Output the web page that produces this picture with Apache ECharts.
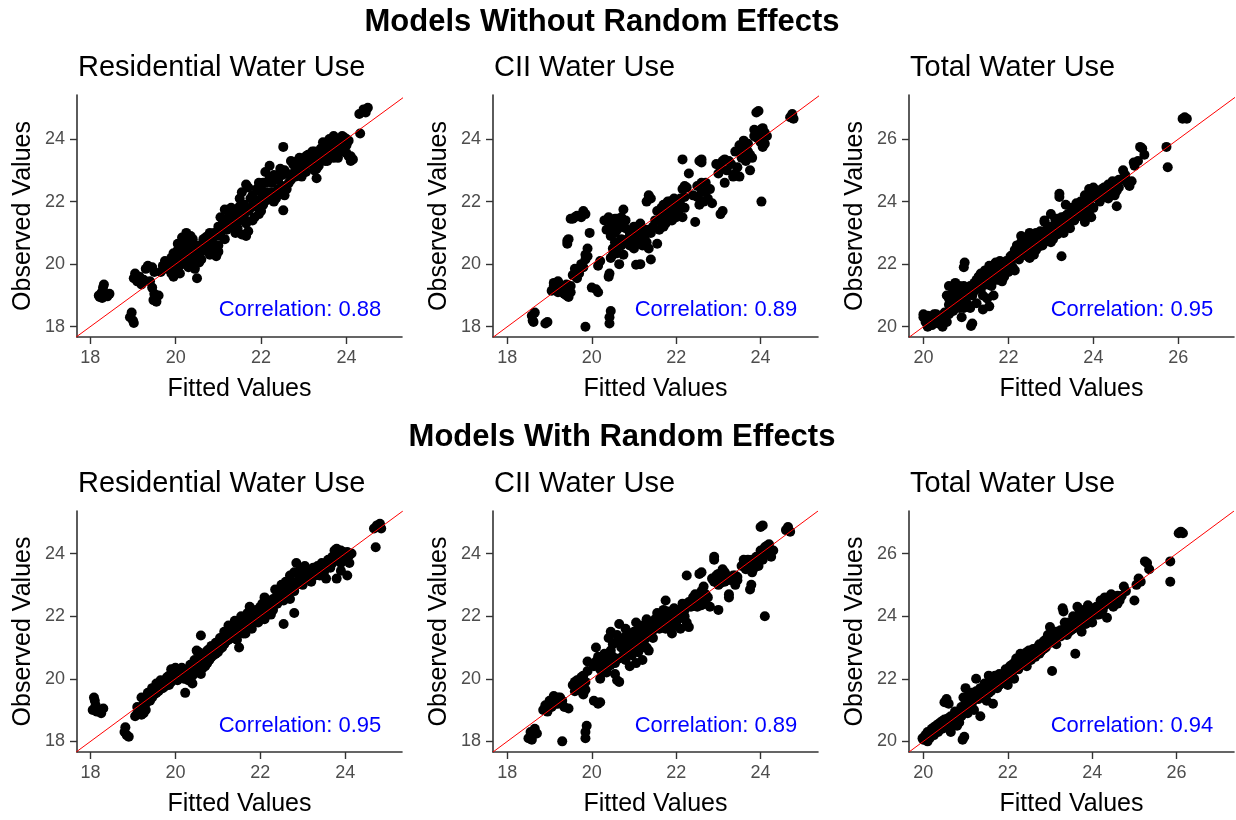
<!DOCTYPE html>
<html>
<head>
<meta charset="utf-8">
<script src="https://cdn.jsdelivr.net/npm/echarts@6/dist/echarts.min.js"></script>
<style>
  html, body { margin: 0; padding: 0; background: #fff; }
  #chart { width: 1236px; height: 820px; }
</style>
</head>
<body>
<div id="chart"></div>
<script>
// Row headings, panel headings and correlation annotations
const rowTitles = ['Models Without Random Effects', 'Models With Random Effects'];
const panelTitles = ['Residential Water Use', 'CII Water Use', 'Total Water Use'];
const correlations = ['0.88', '0.89', '0.95', '0.95', '0.89', '0.94'];

// Axis extents per panel (fitted on x, observed on y)
const xRanges = [[17.69, 25.30], [17.66, 25.36], [19.66, 27.31], [17.68, 25.34], [17.66, 25.36], [19.66, 27.36]];
const yRanges = [[17.67, 25.41], [17.67, 25.41], [19.67, 27.41], [17.66, 25.36], [17.66, 25.36], [19.66, 27.36]];
const ticksLow = [18, 20, 22, 24];
const ticksHigh = [20, 22, 24, 26];
const panelTicks = [ticksLow, ticksLow, ticksHigh, ticksLow, ticksLow, ticksHigh];

// [fitted, observed] pairs
const resNoRE = [
[18.2,19.0],[18.22,18.95],[18.27,19.1],[18.3,19.25],[18.32,19.35],[18.35,19.0],[18.4,18.97],[18.45,19.05],[18.28,18.92],
[18.93,18.3],[18.97,18.45],[19.0,18.2],[19.02,18.12],
[19.02,19.55],[19.05,19.7],[19.1,19.45],[19.15,19.6],[19.25,19.5],[19.3,19.85],[19.35,19.95],[19.45,19.9],[19.5,19.75],[19.2,19.35],[19.4,19.45],
[19.45,19.25],[19.5,19.05],[19.52,18.9],[19.55,18.8],[19.6,19.0],[19.48,18.85],
[19.65,19.75],[19.7,19.95],[19.75,20.1],[19.8,19.85],[19.85,20.0],[19.9,19.7],[19.95,20.35],[19.9,20.2],
[20.0,20.1],[20.05,19.85],[20.05,20.45],[20.1,20.25],[20.1,19.7],[20.15,20.6],[20.15,20.0],[20.2,20.8],[20.2,20.3],[20.25,21.0],[20.25,20.5],[20.3,19.9],[20.3,20.7],[20.35,20.35],[20.35,20.9],[20.4,20.1],[20.4,20.6],[20.45,19.85],[20.5,19.55],[20.5,20.3],[20.55,20.05],
[20.6,20.4],[20.65,20.8],[20.7,20.55],[20.75,20.9],[20.8,20.3],[20.85,20.7],[20.9,21.0],[20.95,20.25],[21.0,20.6],[21.05,20.9],[21.0,21.2],
[21.05,21.5],[21.1,21.3],[21.15,21.75],[21.2,21.1],[21.25,21.6],[21.3,21.8],[21.35,21.35],[21.4,21.0],[21.45,21.6],[21.5,21.85],
[21.55,20.95],[21.65,20.9],[21.7,21.05],
[21.5,22.1],[21.55,22.3],[21.6,21.5],[21.65,22.55],[21.7,22.45],[21.75,21.8],[21.8,22.2],[21.85,21.5],[21.9,22.0],[21.95,22.35],[22.0,21.7],[22.05,22.6],[22.0,22.1],
[22.1,22.95],[22.15,22.3],[22.2,23.15],[22.25,22.6],[22.3,22.0],[22.35,22.8],[22.4,22.4],[22.45,23.05],[22.5,22.5],[22.55,22.2],[22.52,21.72],[22.52,23.75],[22.6,22.9],[22.65,22.6],
[22.7,23.3],[22.75,22.9],[22.8,23.1],[22.9,23.4],[22.95,23.0],[23.0,23.35],[23.05,22.95],[23.1,23.5],[23.2,23.2],[23.25,23.6],[23.3,22.75],[23.3,23.05],[23.35,23.4],
[23.4,23.7],[23.45,23.9],[23.5,23.5],[23.55,23.85],[23.6,24.0],[23.65,23.6],[23.7,24.1],[23.75,23.75],[23.8,23.4],[23.85,23.95],[23.9,24.1],[23.95,23.6],[24.0,23.8],[24.05,23.45],[24.1,23.3],[24.15,23.35],[24.0,24.0],
[24.32,24.18],[24.3,24.8],[24.4,24.95],[24.5,25.0],[24.45,24.85],
[19.95,19.6],[20.0,19.9],[20.05,20.65],[20.1,20.45],[20.15,20.85],[20.2,20.55],[20.25,20.15],[20.3,20.45],[20.35,20.6],[20.4,20.8],[20.45,20.5],[20.5,20.1],[20.55,20.6],[20.6,20.15],[20.65,20.5],[20.7,20.85],[20.75,20.6],[20.8,21.0],[20.85,20.45],[20.9,20.6],[20.95,20.9],[21.0,20.4],
[21.1,21.1],[21.15,20.8],[21.2,21.45],[21.25,21.2],[21.3,21.5],[21.35,21.7],[21.45,21.15],[21.5,21.4],[21.55,21.65],[21.6,21.9],[21.65,21.3],[21.7,21.7],[21.75,22.1],[21.8,21.4],[21.85,21.85],[21.9,22.4],[21.95,21.6],[22.0,22.4],[22.05,21.9],
[22.1,22.6],[22.15,22.05],[22.2,22.75],[22.25,22.3],[22.3,22.85],[22.35,22.1],[22.4,22.7],[22.45,22.3],[22.5,22.85],[22.55,23.0],[22.6,22.4],[22.7,22.7],[22.75,23.2],[22.8,22.8],[22.85,23.3],[22.9,23.0],
[23.0,23.1],[23.05,23.45],[23.1,23.2],[23.15,23.35],[23.2,23.6],[23.25,23.0],[23.35,23.15],[23.4,23.35],[23.45,23.55],[23.5,23.75],[23.55,23.3],[23.6,23.75],[23.65,23.9],[23.7,23.4],[23.75,24.0],[23.8,23.8],[23.85,23.6],[23.9,23.85],[23.95,24.05],[24.0,23.55],[24.05,23.95],[24.1,23.45],
[23.5,23.3],[22.95,22.8],[22.1,22.2],[21.95,22.6]
];

const ciiNoRE = [
[18.58,18.35],[18.6,18.2],[18.65,18.45],[18.62,18.15],[18.9,18.1],[18.95,18.15],[19.85,18.0],[20.42,18.1],[20.42,18.3],[20.45,18.5],
[19.05,19.15],[19.1,19.4],[19.15,19.25],[19.2,19.1],[19.25,19.35],[19.3,19.3],[19.35,19.05],[19.4,19.0],[19.45,19.15],[19.5,19.3],[19.4,19.2],
[20.0,19.25],[20.1,19.2],[20.15,19.1],
[19.42,20.65],[19.45,20.8],
[19.55,21.45],[19.6,21.5],[19.75,21.5],[19.85,21.6],[19.8,21.7],
[19.95,21.0],[19.9,20.5],[19.85,20.3],
[19.55,19.65],[19.6,19.85],[19.65,19.55],[19.7,19.7],[19.75,20.0],[19.8,19.9],[19.85,20.15],[19.9,20.25],
[20.15,19.95],[20.2,20.1],[20.4,19.6],[20.42,19.7],
[20.3,21.4],[20.35,21.1],[20.4,21.5],[20.45,20.9],[20.5,21.3],[20.55,21.0],[20.6,21.45],[20.7,21.2],[20.75,21.75],[20.8,21.4],
[20.45,20.2],[20.5,20.5],[20.55,20.7],[20.6,20.35],[20.65,20.0],[20.7,20.6],[20.75,20.3],[20.85,20.8],[20.9,21.0],
[21.05,19.98],[21.15,20.0],
[20.9,20.6],[21.0,21.2],[21.05,20.75],[21.1,21.0],[21.15,21.3],[21.2,20.6],[21.25,20.85],[21.3,21.1],[21.35,20.5],[21.4,20.15],[21.45,21.2],
[21.3,22.0],[21.35,22.2],[21.4,22.1],
[21.55,20.65],[21.5,21.4],[21.55,21.7],[21.6,21.1],[21.65,21.55],[21.7,21.9],[21.75,21.3],[21.8,21.7],[21.85,22.0],[21.9,21.4],[21.95,21.85],[22.0,22.05],[22.05,21.6],[22.1,21.9],[22.15,21.5],[22.2,21.8],
[22.15,23.35],[22.15,22.4],[22.3,22.9],[22.55,23.3],[22.6,23.35],[22.45,21.35],
[22.4,22.2],[22.5,22.5],[22.55,21.9],[22.6,22.3],[22.7,22.6],[22.75,22.1],[22.8,22.4],[22.85,21.95],
[23.05,21.6],[23.1,21.7],
[22.95,23.2],[23.0,22.9],[23.1,23.3],[23.15,22.6],[23.2,23.0],[23.3,23.2],[23.35,22.8],[23.45,23.1],[23.5,22.8],
[23.4,23.6],[23.5,23.8],[23.55,23.4],[23.6,23.95],[23.65,23.3],[23.7,23.6],[23.75,23.0],[23.8,23.4],
[24.02,22.0],
[23.9,24.85],[23.95,24.9],
[23.85,24.1],[23.9,24.25],[23.95,24.0],[24.0,24.3],[24.05,24.15],[24.1,23.85],[24.15,24.1],[24.05,23.75],
[24.7,24.7],[24.75,24.8],[24.78,24.65],
[19.42,20.75],[19.5,21.45],[19.65,21.55],[19.1,19.3],[19.2,19.45],[19.3,19.1],[19.4,19.35],[19.5,19.1],[19.45,18.95],
[20.45,21.2],[20.55,21.45],[20.6,21.1],[20.65,21.35],[20.7,21.5],[20.5,20.3],[20.6,20.55],[20.7,20.8],[20.8,21.15],[20.95,20.8],[21.0,20.5],[21.1,20.7],[21.2,21.1],[21.3,20.7],[21.4,21.0],
[21.6,21.4],[21.65,21.8],[21.7,21.2],[21.75,21.6],[21.8,22.0],[21.85,21.5],[21.9,21.75],[21.95,22.1],[22.0,21.5],[22.05,21.85],[22.1,22.1],[22.2,22.15],[22.25,22.45],
[22.5,22.15],[22.6,22.6],[22.65,22.0],[22.7,22.35],[23.05,23.1],[23.15,23.35],[23.25,23.3],[23.4,22.9],[23.55,23.7],[23.6,23.55],[23.7,23.85],[23.75,23.5],
[23.85,24.3],[23.9,24.05],[24.0,24.1],[24.05,24.35],[24.1,24.2],[24.0,23.9],[21.35,22.1],[22.2,22.5],[22.6,23.25]
];

const totNoRE = [
[20.0,20.3],[20.05,20.15],[20.1,20.0],[20.1,20.35],[20.15,20.2],[20.2,20.05],[20.25,20.4],[20.3,20.25],[20.35,20.1],[20.4,20.35],[20.45,20.0],[20.5,20.3],
[20.6,20.7],[20.65,21.0],[20.7,20.5],[20.75,20.85],[20.8,21.25],[20.85,20.6],[20.9,20.3],[20.9,21.1],[20.95,21.3],[21.0,20.8],[21.05,21.15],[21.1,20.6],
[20.95,21.9],[20.97,22.05],
[21.12,20.02],[21.15,20.1],
[21.15,21.0],[21.2,21.4],[21.25,20.75],[21.3,21.6],[21.35,21.2],[21.4,20.55],[21.45,21.5],[21.5,20.9],[21.55,20.65],[21.6,21.3],[21.65,21.0],
[21.45,21.8],[21.55,21.95],[21.6,21.6],[21.7,22.05],[21.75,21.5],[21.8,21.85],[21.9,21.6],[21.95,22.1],[22.0,21.75],
[22.05,22.0],[22.1,22.3],[22.15,21.8],[22.2,22.5],[22.25,22.15],[22.3,22.7],[22.35,22.35],[22.4,22.85],[22.45,22.5],[22.5,22.2],[22.55,22.7],[22.6,22.95],[22.65,22.45],
[22.7,22.8],[22.75,23.05],[22.8,22.6],[22.85,23.35],[22.9,22.9],[22.95,23.2],[23.0,22.7],[23.05,23.05],[23.1,23.3],[23.15,22.95],
[23.2,24.25],[23.2,24.15],
[23.25,22.25],
[23.3,23.3],[23.35,23.9],[23.4,23.6],[23.45,23.15],[23.5,23.8],[23.55,23.4],[23.6,23.95],[23.7,23.6],[23.75,23.9],[23.8,23.45],
[23.85,24.2],[23.9,24.05],[23.95,24.3],[24.0,23.8],[24.05,24.2],[24.1,24.35],[24.15,24.0],[24.2,24.4],[24.25,24.15],
[24.35,24.55],[24.4,24.3],[24.45,24.65],[24.5,24.2],[24.55,23.85],[24.6,24.45],[24.65,24.7],
[24.7,25.0],[24.75,24.85],[24.85,24.5],[24.9,24.65],
[24.97,25.15],[25.05,25.3],[25.1,25.75],[25.15,25.7],[25.2,25.5],
[25.72,25.75],[25.75,25.1],[26.1,26.65],[26.15,26.7],[26.2,26.65],
[20.0,20.4],[20.05,20.3],[20.2,20.3],[20.3,20.4],[20.4,20.2],[20.5,20.45],[20.55,20.15],[20.6,20.4],[20.7,20.9],[20.75,20.6],[20.8,21.05],[20.85,21.3],[20.9,20.85],
[21.0,21.05],[21.05,20.7],[21.1,21.3],[21.2,21.15],[21.25,21.5],[21.3,21.35],[21.35,21.7],[21.4,21.0],[21.5,21.35],[21.55,21.7],[21.65,21.8],[21.7,21.5],[21.8,21.6],[21.85,22.0],[21.9,21.8],
[22.0,22.0],[22.05,22.25],[22.1,21.9],[22.15,22.45],[22.2,22.2],[22.25,22.6],[22.3,22.4],[22.35,22.8],[22.4,22.6],[22.45,22.25],[22.5,22.8],[22.55,22.45],[22.6,22.7],[22.65,23.0],[22.7,22.55],
[22.75,22.8],[22.8,23.0],[22.85,22.7],[22.9,23.1],[22.95,22.85],[23.0,23.15],[23.05,22.8],[23.1,23.1],[23.15,23.45],[23.2,23.2],[23.25,23.5],[23.3,23.0],[23.35,23.3],[23.4,23.35],[23.45,23.6],
[23.5,23.4],[23.55,23.7],[23.6,23.5],[23.65,23.8],[23.7,24.0],[23.8,23.7],[23.85,24.0],[23.9,24.25],[23.95,24.1],[24.0,24.15],[24.05,24.35],[24.1,24.1],[24.2,24.2],[24.25,24.45],[24.3,24.3],
[24.35,24.1],[24.4,24.5],[24.5,24.6],[24.55,24.35],[24.6,24.7],[24.7,24.75],[24.8,24.6],[24.95,25.25],
[20.55,21.0],[20.6,21.3],[20.65,20.85],[20.7,21.2],[20.75,21.4],[20.8,20.75],[20.85,21.0],[20.95,20.6],[21.0,21.1],[20.6,20.9],
[21.6,21.75],[21.7,22.0],[21.8,22.1],[21.75,21.65],[21.85,21.45],[21.9,21.9],
[22.2,22.6],[22.3,22.9],[22.4,22.6],[22.5,23.0],[22.6,22.3],
[22.85,23.4],[23.0,23.6],[23.1,23.45],[23.25,23.1],[23.4,23.2],[23.35,23.55],
[23.8,24.2],[23.9,24.4],[24.0,24.45],[24.1,24.3],[24.2,24.25],[23.9,23.7],[23.8,23.35],[23.95,23.5]
];

const resRE = [
[18.05,19.0],[18.1,19.3],[18.12,19.15],[18.15,18.95],[18.2,19.0],[18.25,18.9],[18.3,19.05],[18.08,19.4],
[18.8,18.3],[18.82,18.45],[18.85,18.2],[18.9,18.15],
[19.05,18.8],[19.1,18.9],[19.15,19.05],[19.2,18.85],[19.25,19.2],[19.3,19.0],[19.1,19.1],[19.2,19.4],
[19.35,19.55],[19.4,19.3],[19.45,19.7],[19.5,19.5],[19.55,19.85],[19.6,19.6],[19.65,19.95],[19.7,19.7],[19.75,19.9],
[19.8,20.05],[19.85,19.8],[19.9,20.3],[19.95,20.1],[20.0,20.35],[20.05,19.95],[20.1,20.2],[20.15,20.35],[20.2,20.0],
[20.23,19.55],[20.3,19.95],[20.4,19.85],
[20.45,20.3],[20.5,20.9],[20.55,20.5],[20.6,21.38],[20.6,20.15],[20.65,20.7],[20.7,20.4],[20.75,20.9],[20.8,20.6],[20.85,21.05],[20.9,20.75],[20.95,21.15],[21.0,20.85],
[21.05,21.3],[21.1,21.0],[21.15,21.5],[21.2,21.2],[21.25,21.7],[21.3,21.35],[21.35,21.55],[21.4,21.85],[21.45,21.25],[21.5,21.0],
[21.5,21.7],[21.55,22.0],[21.6,21.45],[21.65,21.9],[21.7,22.1],[21.75,22.3],[21.8,21.6],[21.85,21.95],[21.9,22.2],[21.95,21.8],[22.0,22.1],[22.05,22.4],[22.1,22.6],[22.1,21.9],
[22.2,22.3],[22.25,22.05],[22.3,22.55],[22.35,22.85],[22.4,22.4],[22.45,22.7],[22.5,23.0],[22.55,21.75],[22.55,22.5],[22.6,23.1],[22.65,22.7],[22.7,23.3],[22.75,22.9],[22.8,22.1],
[22.8,23.4],[22.85,23.7],[22.9,23.15],[22.95,23.5],[23.0,23.3],[23.05,23.6],[23.1,23.2],
[23.15,23.45],[23.2,23.1],[23.3,23.5],[23.4,23.3],[23.45,23.7],[23.55,23.2],[23.6,23.6],
[23.7,23.9],[23.75,24.1],[23.8,23.2],[23.85,24.0],[23.9,23.7],[23.95,24.05],[24.0,23.85],[24.05,23.3],[24.1,23.95],[24.15,24.0],[23.8,24.15],
[24.72,24.2],[24.68,24.8],[24.75,24.9],[24.82,24.95],[24.85,24.8],
[19.2,19.0],[19.25,18.9],[19.3,19.2],[19.4,19.5],[19.45,19.4],[19.5,19.65],[19.55,19.55],[19.6,19.8],[19.65,19.7],[19.7,19.9],[19.75,19.75],[19.8,19.95],[19.85,20.1],[19.9,19.9],[19.95,20.25],
[20.0,20.0],[20.1,20.05],[20.2,20.25],[20.3,20.2],[20.35,20.45],[20.4,20.1],[20.45,20.6],[20.5,20.35],[20.55,20.85],[20.6,20.55],[20.65,20.35],[20.7,20.75],[20.75,20.5],[20.8,20.95],[20.85,20.7],
[20.9,21.0],[20.95,20.8],[21.0,21.1],[21.05,20.95],[21.1,21.3],[21.15,21.1],[21.2,21.45],[21.25,21.25],[21.3,21.6],[21.35,21.3],[21.4,21.5],[21.45,21.75],[21.5,21.5],[21.55,21.8],[21.6,21.65],
[21.65,21.45],[21.7,21.8],[21.75,22.0],[21.8,21.8],[21.85,22.15],[21.9,21.95],[21.95,22.1],[22.0,22.3],[22.05,22.0],[22.15,22.2],[22.2,22.45],[22.25,22.3],[22.3,22.2],[22.35,22.55],[22.4,22.75],
[22.45,22.5],[22.5,22.7],[22.6,22.8],[22.65,22.95],[22.7,22.55],[22.75,23.1],[22.8,22.8],[22.85,23.0],[22.9,23.35],[22.95,23.2],[23.0,23.0],[23.05,23.35],[23.1,23.45],[23.2,23.35],[23.25,23.55],
[23.3,23.3],[23.35,23.6],[23.4,23.45],[23.5,23.4],[23.55,23.7],[23.6,23.8],[23.65,23.55],[23.7,23.7],[23.8,23.85],[23.9,24.1],[24.0,23.95],[24.05,24.05],[24.1,23.7],[23.9,23.45]
];

const ciiRE = [
[18.5,18.1],[18.55,18.3],[18.6,18.2],[18.65,18.4],[18.7,18.25],[18.58,18.05],
[19.3,18.0],[19.85,18.1],[19.85,18.3],[19.88,18.5],
[18.85,19.0],[18.9,19.15],[18.95,18.95],[19.0,19.3],[19.05,19.1],[19.1,19.45],[19.15,19.2],[19.2,19.4],[19.3,19.3],[19.35,19.1],[19.45,19.05],
[19.55,19.8],[19.6,19.6],[19.65,19.95],[19.7,19.7],[19.75,20.05],[19.8,19.5],[19.85,19.9],[19.9,20.25],[19.9,20.55],[19.85,19.65],
[20.05,19.3],[20.15,19.2],[20.2,19.25],
[20.1,21.0],[20.05,20.4],[20.15,20.7],[20.2,20.3],[20.2,20.0],[20.25,20.55],[20.3,20.8],[20.35,20.2],[20.45,20.45],[20.5,20.7],[20.55,20.15],[20.6,19.95],[20.65,19.9],
[20.4,21.3],[20.45,21.5],[20.5,21.1],[20.6,21.4],[20.65,21.75],[20.7,21.25],[20.8,21.6],[20.9,21.2],
[20.8,20.6],[20.85,20.9],[20.9,20.4],[20.95,20.75],[21.0,21.0],[21.05,20.5],[21.1,20.85],[21.15,21.2],[21.2,20.6],[21.3,21.0],[21.35,20.9],
[21.0,21.5],[21.05,21.8],[21.1,21.4],[21.2,21.7],[21.25,21.45],[21.3,21.9],[21.4,21.6],[21.45,21.3],[21.5,21.9],
[21.55,22.1],[21.6,21.6],[21.65,21.9],[21.7,22.2],[21.75,22.5],[21.8,21.7],[21.85,22.0],[21.9,21.45],[21.95,22.25],[22.0,21.8],[22.05,22.1],[22.1,21.6],[22.15,22.4],[22.2,22.0],
[22.25,23.3],[22.3,21.65],[22.55,23.35],[22.6,23.4],[22.65,22.95],
[22.4,22.4],[22.45,22.7],[22.5,22.3],[22.55,22.6],[22.6,22.8],[22.7,22.4],[22.75,22.6],[22.8,22.3],
[23.0,22.2],[22.9,23.9],[22.9,23.8],
[22.9,23.1],[22.95,23.3],[23.0,23.0],[23.05,23.2],[23.1,23.5],[23.15,23.1],[23.2,23.3],[23.25,22.6],[23.25,22.7],[23.3,23.15],[23.35,23.3],[23.4,23.0],[23.45,23.25],
[23.55,23.6],[23.6,23.8],[23.65,23.5],[23.7,23.65],[23.75,22.85],[23.78,23.0],
[23.8,23.4],[23.85,23.7],[23.9,23.9],[23.95,23.6],[24.0,24.1],[24.05,23.8],[24.1,24.2],[24.15,24.0],[24.2,24.3],[24.25,23.9],[24.3,24.1],
[24.0,24.85],[24.05,24.9],[24.1,22.0],
[24.6,24.75],[24.65,24.85],[24.7,24.7],
[19.0,19.1],[19.1,19.25],[19.2,19.2],[19.25,19.4],[19.6,19.9],[19.7,19.85],[19.75,19.6],[19.8,20.1],[20.1,20.55],[20.15,20.45],[20.25,20.2],[20.3,20.55],[20.35,20.7],[20.4,20.4],[20.45,20.9],
[20.55,20.5],[20.6,21.2],[20.65,20.65],[20.7,21.0],[20.75,20.75],[20.8,21.35],[20.85,21.15],[20.9,21.45],[20.95,21.0],[21.0,21.3],[21.05,21.15],[21.1,21.6],[21.15,21.45],[21.2,21.0],[21.25,21.25],
[21.3,21.6],[21.35,21.4],[21.4,21.8],[21.45,21.55],[21.5,21.65],[21.55,21.8],[21.6,22.0],[21.65,21.7],[21.7,21.95],[21.75,21.6],[21.8,22.15],[21.85,21.8],[21.9,22.1],[21.95,21.7],[22.0,22.1],
[22.05,21.9],[22.1,22.2],[22.2,22.2],[22.25,21.8],[22.35,22.3],[22.4,22.6],[22.5,22.5],[22.6,22.35],[22.7,22.7],[22.85,23.2],[22.95,23.15],[23.0,23.35],[23.05,23.05],[23.1,23.25],[23.15,23.4],
[23.2,23.15],[23.3,23.25],[23.4,23.3],[23.45,23.15],[23.6,23.7],[23.7,23.8],[23.8,23.8],[23.85,23.55],[23.95,23.8],[24.05,23.95],[24.1,24.05],[24.15,24.25],[24.2,24.1],[22.3,22.45],[22.55,22.35]
];

const totRE = [
[19.98,20.1],[20.0,20.05],[20.05,20.2],[20.1,20.0],[20.1,20.3],[20.15,20.1],[20.2,20.4],[20.25,20.2],[20.3,20.5],[20.35,20.3],[20.4,20.6],
[20.45,20.4],[20.5,20.7],[20.55,20.45],[20.6,20.75],[20.65,20.3],[20.7,20.6],[20.75,20.95],[20.8,20.5],[20.85,20.85],
[20.5,21.25],[20.55,21.35],[20.6,21.2],
[20.93,20.05],[20.97,20.15],
[20.9,21.1],[20.95,21.4],[21.0,21.7],[21.05,20.9],[21.1,21.25],[21.15,21.55],[21.2,21.0],[21.25,22.0],[21.3,21.35],[21.35,20.8],[21.35,21.7],
[21.4,21.5],[21.45,21.85],[21.5,21.3],[21.55,22.1],[21.6,21.6],[21.65,21.2],[21.7,21.95],[21.75,21.7],[21.8,22.15],[21.85,21.85],
[21.9,22.05],[21.95,22.3],[22.0,21.8],[22.05,22.2],[22.1,22.45],[22.15,22.0],[22.2,22.65],[22.25,22.3],[22.3,22.8],[22.35,22.5],
[22.4,22.75],[22.45,22.4],[22.5,22.9],[22.55,22.6],[22.6,22.95],[22.65,22.7],[22.7,22.85],[22.75,23.1],[22.8,22.9],
[22.85,23.2],[22.9,23.0],[22.95,23.4],[23.0,23.65],[23.05,22.25],[23.05,23.2],[23.1,23.5],[23.15,23.1],[23.2,23.35],[23.25,23.55],
[23.3,24.25],[23.32,24.15],
[23.35,23.6],[23.4,23.4],[23.45,23.8],[23.5,23.55],[23.55,24.0],[23.6,22.8],[23.6,23.7],[23.65,24.3],[23.7,23.85],[23.75,23.5],[23.8,24.0],[23.85,23.75],[23.9,24.35],[23.95,24.1],[24.0,23.8],
[24.1,24.3],[24.15,24.05],[24.2,24.5],[24.25,24.2],[24.3,24.6],[24.35,23.95],[24.4,24.45],[24.45,24.7],[24.5,24.3],[24.55,24.55],[24.6,24.4],[24.7,24.65],
[24.75,24.95],[24.8,24.8],[25.0,24.5],[25.05,25.0],[25.1,25.2],[25.15,25.1],[25.25,25.75],[25.3,25.7],[25.35,25.5],
[25.85,25.75],[25.85,25.1],[26.05,26.65],[26.1,26.7],[26.15,26.65],
[20.05,20.1],[20.15,20.3],[20.2,20.2],[20.25,20.45],[20.3,20.3],[20.35,20.55],[20.4,20.4],[20.45,20.65],[20.5,20.5],[20.55,20.7],[20.6,20.5],[20.65,20.8],[20.7,20.7],[20.75,20.65],[20.8,20.9],
[20.85,20.6],[20.9,20.8],[20.95,21.05],[21.0,21.3],[21.05,21.1],[21.1,21.5],[21.15,21.2],[21.2,21.35],[21.25,21.6],[21.3,21.45],[21.4,21.7],[21.45,21.4],[21.5,21.7],[21.55,21.55],[21.6,21.9],
[21.65,21.75],[21.7,22.1],[21.75,21.9],[21.8,21.8],[21.85,22.1],[21.9,21.9],[21.95,22.0],[22.0,22.3],[22.05,22.4],[22.1,22.15],[22.15,22.5],[22.2,22.35],[22.25,22.6],[22.3,22.45],[22.35,22.7],
[22.4,22.55],[22.45,22.85],[22.5,22.65],[22.55,22.8],[22.6,22.7],[22.65,22.95],[22.7,23.0],[22.75,22.8],[22.8,23.1],[22.85,22.95],[22.9,23.25],[22.95,23.1],[23.0,23.3],[23.05,23.4],[23.1,23.25],
[23.15,23.5],[23.2,23.5],[23.25,23.35],[23.3,23.55],[23.35,23.8],[23.4,23.65],[23.45,23.5],[23.5,23.75],[23.55,23.6],[23.6,23.9],[23.65,23.75],[23.7,24.1],[23.75,23.8],[23.8,24.2],[23.85,23.95],
[23.9,23.85],[23.95,24.25],[24.0,24.05],[24.05,24.2],[24.1,24.05],[24.2,24.3],[24.25,24.5],[24.3,24.35],[24.4,24.6],[24.5,24.55],[24.6,24.65],[24.65,24.5]
];

const panelData = [resNoRE, ciiNoRE, totNoRE, resRE, ciiRE, totRE];

// Layout of the 2 x 3 panel grid (pixels)
const colLeft = [77, 493, 909];
const rowTop = [95, 511];
const gridW = 325;
const gridH = [242, 241];

const FONT = '"Liberation Sans", Arial, sans-serif';
const TICK_COLOR = '#4D4D4D';
const LINE_COLOR = '#333333';

const grids = [], xAxes = [], yAxes = [], series = [], graphics = [];

panelData.forEach((pts, i) => {
  const r = Math.floor(i / 3), c = i % 3;
  const left = colLeft[c], top = rowTop[r];
  grids.push({ left: left, top: top, width: gridW, height: gridH[r], containLabel: false });

  const axisCommon = (range) => ({
    type: 'value',
    gridIndex: i,
    min: range[0],
    max: range[1],
    splitLine: { show: false },
    axisLine: { show: true, onZero: false, lineStyle: { color: LINE_COLOR, width: 1.6 } },
    axisTick: { show: true, length: 7, customValues: panelTicks[i], lineStyle: { color: LINE_COLOR, width: 1.4 } },
    axisLabel: { customValues: panelTicks[i], color: TICK_COLOR, fontSize: 18, fontFamily: FONT, margin: 12 },
    nameLocation: 'middle',
    nameTextStyle: { color: '#000', fontSize: 25, fontFamily: FONT }
  });

  const xa = axisCommon(xRanges[i]);
  xa.name = 'Fitted Values';
  xa.nameGap = 40;
  xAxes.push(xa);

  const ya = axisCommon(yRanges[i]);
  ya.name = 'Observed Values';
  ya.nameGap = 41;
  yAxes.push(ya);

  // y = x reference line spanning the panel
  const lo = Math.min(xRanges[i][0], yRanges[i][0]);
  const hi = Math.max(xRanges[i][1], yRanges[i][1]);
  series.push({
    type: 'scatter',
    xAxisIndex: i, yAxisIndex: i,
    data: pts,
    symbol: 'circle',
    symbolSize: 10,
    itemStyle: { color: '#000000', opacity: 1 },
    silent: true,
    z: 2
  });
  series.push({
    type: 'line',
    xAxisIndex: i, yAxisIndex: i,
    data: [[lo, lo], [hi, hi]],
    clip: true,
    showSymbol: false,
    symbol: 'none',
    lineStyle: { color: '#FF0000', width: 1 },
    silent: true,
    z: 3
  });

  graphics.push({
    type: 'text',
    x: left + 223, y: top + 215,
    style: {
      text: 'Correlation: ' + correlations[i],
      fill: '#0000FF', fontSize: 22, fontFamily: FONT,
      align: 'center', verticalAlign: 'middle'
    },
    z: 10
  });

  graphics.push({
    type: 'text',
    x: left + 1, y: top - 27,
    style: {
      text: panelTitles[c],
      fill: '#000', fontSize: 29, fontFamily: FONT,
      align: 'left', verticalAlign: 'middle'
    }
  });
});

graphics.push({
  type: 'text', x: 602, y: 22,
  style: { text: rowTitles[0], fill: '#000', fontSize: 31, fontWeight: 'bold', fontFamily: FONT, align: 'center', verticalAlign: 'middle' }
});
graphics.push({
  type: 'text', x: 622, y: 437,
  style: { text: rowTitles[1], fill: '#000', fontSize: 31, fontWeight: 'bold', fontFamily: FONT, align: 'center', verticalAlign: 'middle' }
});

const chart = echarts.init(document.getElementById('chart'), null, { renderer: 'canvas' });
chart.setOption({
  backgroundColor: '#ffffff',
  animation: false,
  grid: grids,
  xAxis: xAxes,
  yAxis: yAxes,
  series: series,
  graphic: graphics
});
</script>
</body>
</html>
